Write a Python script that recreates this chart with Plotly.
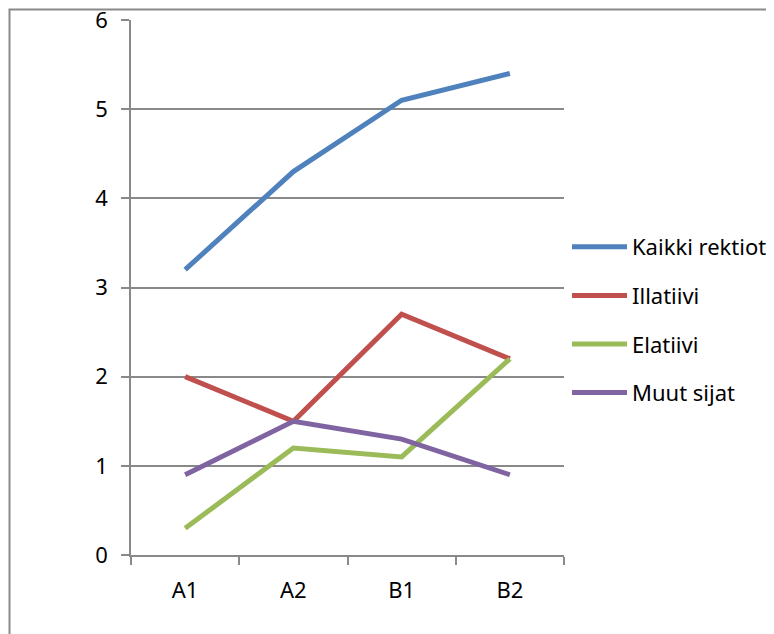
import plotly.graph_objects as go

categories = ["A1", "A2", "B1", "B2"]
series_names = ["Kaikki rektiot", "Illatiivi", "Elatiivi", "Muut sijat"]
kaikki = [3.2, 4.3, 5.1, 5.4]
illatiivi = [2.0, 1.5, 2.7, 2.2]
elatiivi = [0.3, 1.2, 1.1, 2.2]
muut = [0.9, 1.5, 1.3, 0.9]
y_ticks = [0, 1, 2, 3, 4, 5, 6]

colors = ["#4F81BD", "#C0504D", "#9BBB59", "#8064A2"]
values = [kaikki, illatiivi, elatiivi, muut]

W, H = 774, 634
# page body has an 8px margin, so positions are shifted by that
OFF = 8
L, R, T, B = 131 - OFF, W - 564 + OFF, 20 - OFF, H - 555 + OFF
grey = "#898989"

fig = go.Figure()
for name, vals, col in zip(series_names, values, colors):
    fig.add_trace(go.Scatter(
        x=categories, y=vals, name=name, mode="lines",
        line=dict(color=col, width=5),
        legendgroup=name,
    ))

pw, ph = W - L - R, H - T - B
def px_x(p):
    return (p - OFF - L) / pw
def px_y(p):
    return (H - B - (p - OFF)) / ph

# outer frame (only left/top edges visible)
fig.add_shape(type="rect", xref="paper", yref="paper",
              x0=px_x(OFF + 1.5), x1=px_x(W + 40), y0=px_y(H + 40), y1=px_y(OFF + 1.5),
              line=dict(color=grey, width=2), fillcolor="rgba(0,0,0,0)", layer="below")

fig.update_layout(
    width=W, height=H,
    margin=dict(l=L, r=R, t=T, b=B, autoexpand=False),
    paper_bgcolor="white", plot_bgcolor="white",
    font=dict(family="Noto Sans", size=22, color="black"),
    showlegend=True,
    legend=dict(x=px_x(567), xanchor="left", y=px_y(320), yanchor="middle",
                itemwidth=55, tracegroupgap=17, font=dict(size=22),
                bgcolor="rgba(0,0,0,0)"),
    xaxis=dict(
        type="category", range=[-0.5, 3.5], tickson="boundaries",
        showgrid=False, showline=True, linecolor=grey, linewidth=1.5,
        ticks="outside", ticklen=8, tickcolor=grey, tickwidth=1.5,
        ticklabelstandoff=15, zeroline=False, fixedrange=True, automargin=False,
    ),
    yaxis=dict(
        range=[0, 6], tickvals=y_ticks, showgrid=True, gridcolor=grey, gridwidth=1.5,
        showline=True, linecolor=grey, linewidth=1.5,
        ticks="outside", ticklen=8, tickcolor=grey, tickwidth=1.5,
        ticklabelstandoff=9, ticklabeloverflow="allow",
        zeroline=False, fixedrange=True, automargin=False,
    ),
)

fig.write_html("out.html")
